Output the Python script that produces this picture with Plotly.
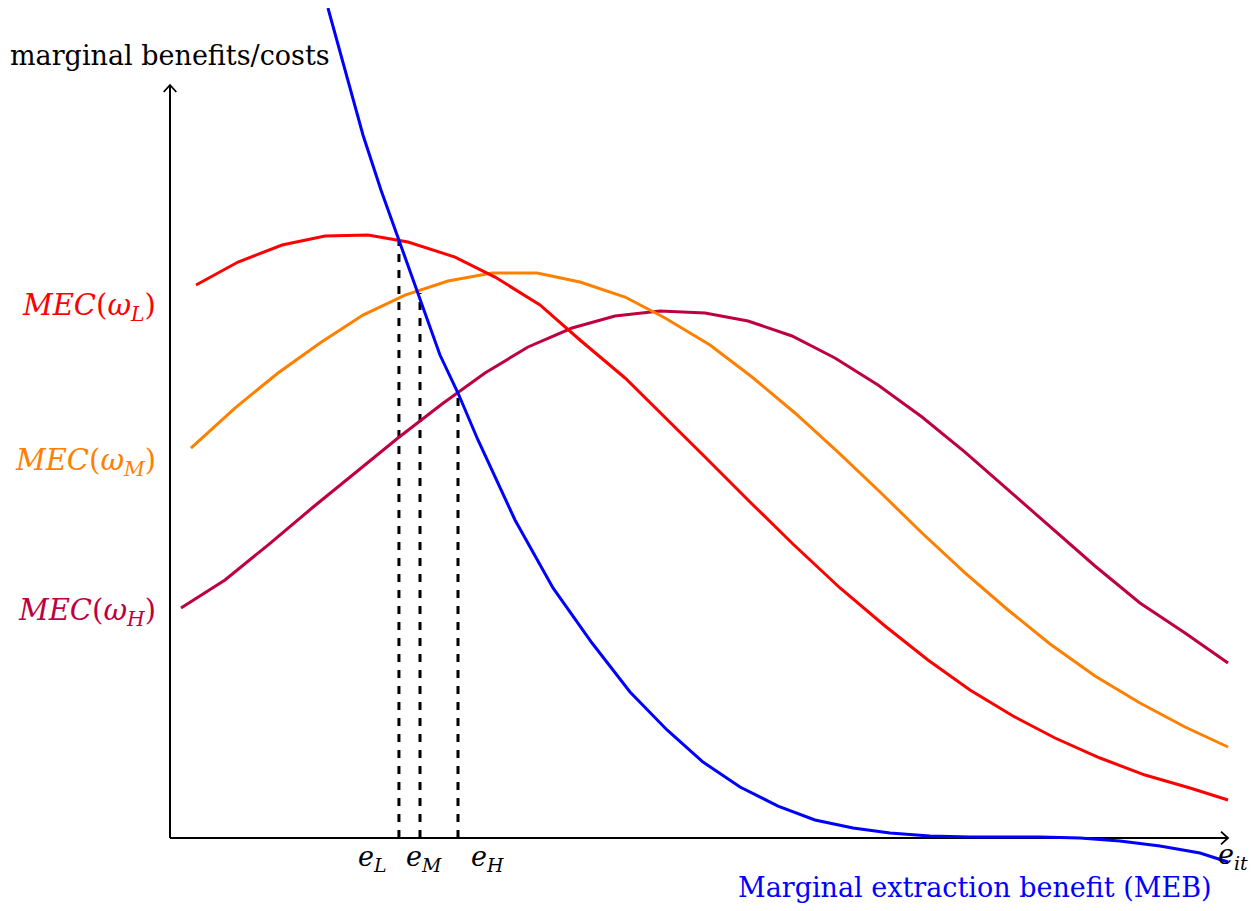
import plotly.graph_objects as go

# ---- data (x: extraction e_it, y: marginal benefits/costs; axis spans x 0..10) ----
meb_x = [1.493, 1.654, 1.824, 1.994, 2.164, 2.363, 2.552, 2.722, 2.911, 3.261, 3.620, 3.989,
         4.348, 4.698, 5.038, 5.388, 5.747, 6.096, 6.456, 6.805, 7.183, 7.561, 8.223, 8.601,
         8.979, 9.357, 9.735, 10.0]
meb_y = [7.845, 7.259, 6.645, 6.125, 5.652, 5.085, 4.565, 4.206, 3.762, 3.006, 2.363, 1.843,
         1.380, 1.021, 0.718, 0.482, 0.302, 0.170, 0.095, 0.047, 0.019, 0.009, 0.009, 0.0,
         -0.028, -0.076, -0.142, -0.227]

mecL_x = [0.246, 0.643, 1.059, 1.465, 1.871, 2.250, 2.694, 3.072, 3.497, 3.875, 4.301, 4.679,
          5.057, 5.482, 5.888, 6.333, 6.758, 7.164, 7.561, 7.968, 8.365, 8.790, 9.216, 9.641, 10.0]
mecL_y = [5.227, 5.444, 5.605, 5.690, 5.699, 5.633, 5.491, 5.302, 5.038, 4.707, 4.348, 3.979,
          3.601, 3.176, 2.779, 2.363, 2.004, 1.682, 1.399, 1.153, 0.945, 0.756, 0.595, 0.473, 0.359]

mecM_x = [0.198, 0.614, 1.021, 1.418, 1.824, 2.221, 2.628, 3.043, 3.469, 3.875, 4.301, 4.679,
          5.104, 5.501, 5.907, 6.314, 6.711, 7.108, 7.514, 7.921, 8.318, 8.743, 9.168, 9.594, 10.0]
mecM_y = [3.686, 4.064, 4.395, 4.679, 4.943, 5.132, 5.265, 5.340, 5.340, 5.255, 5.113, 4.915,
          4.660, 4.357, 4.017, 3.648, 3.270, 2.883, 2.505, 2.155, 1.834, 1.531, 1.276, 1.049, 0.860]

mecH_x = [0.104, 0.520, 0.926, 1.342, 1.749, 2.155, 2.571, 2.977, 3.384, 3.800, 4.206, 4.631,
          5.057, 5.463, 5.879, 6.285, 6.692, 7.108, 7.514, 7.921, 8.336, 8.743, 9.168, 9.594, 10.0]
mecH_y = [2.174, 2.439, 2.769, 3.119, 3.450, 3.781, 4.102, 4.395, 4.641, 4.820, 4.934, 4.981,
          4.962, 4.887, 4.745, 4.537, 4.282, 3.979, 3.648, 3.289, 2.930, 2.571, 2.221, 1.938, 1.654]

e_labels = ["L", "M", "H"]
e_vals = [2.164, 2.363, 2.722]
e_tops = [5.652, 5.151, 4.216]

# ---- layout constants ----
PAGE_OFF = 8          # default body margin of the html page
PX = 105.8            # pixels per unit
X0, Y0 = 170 - PAGE_OFF, 838 - PAGE_OFF
W, H = 1240, 895
x_range = [(0 - X0) / PX, (W - X0) / PX]
y_range = [(Y0 - H) / PX, Y0 / PX]
X_END = 10.0
Y_END = (838 - 85) / PX


def px_x(p):
    return (p - 170) / PX


def px_y(p):
    return (838 - p) / PX


BLUE = "#0000ff"
RED = "#ff0000"
ORANGE = "#ff8000"
PURPLE = "#bf0040"
FONT = "DejaVu Serif"
FS = 27

fig = go.Figure()

# axes
fig.add_trace(go.Scatter(x=[0, X_END], y=[0, 0], mode="lines",
                         line=dict(color="black", width=2), hoverinfo="skip"))
fig.add_trace(go.Scatter(x=[0, 0], y=[0, Y_END], mode="lines",
                         line=dict(color="black", width=2), hoverinfo="skip"))
a = 7 / PX
fig.add_trace(go.Scatter(x=[X_END - a, X_END, X_END - a], y=[a * 0.9, 0, -a * 0.9], mode="lines",
                         line=dict(color="black", width=1.8), hoverinfo="skip"))
fig.add_trace(go.Scatter(x=[-a * 0.9, 0, a * 0.9], y=[Y_END - a, Y_END, Y_END - a], mode="lines",
                         line=dict(color="black", width=1.8), hoverinfo="skip"))

# dashed verticals
for ev, et in zip(e_vals, e_tops):
    fig.add_trace(go.Scatter(x=[ev, ev], y=[0, et], mode="lines",
                             line=dict(color="black", width=3, dash="8px,8px"), hoverinfo="skip"))

# curves
for xs, ys, c in [(mecH_x, mecH_y, PURPLE), (mecM_x, mecM_y, ORANGE),
                  (mecL_x, mecL_y, RED), (meb_x, meb_y, BLUE)]:
    fig.add_trace(go.Scatter(x=xs, y=ys, mode="lines", line=dict(color=c, width=3),
                             hoverinfo="skip"))

ann = []
ann.append(dict(x=px_x(170), y=px_y(55), text="marginal benefits/costs", showarrow=False,
                font=dict(family=FONT, size=FS, color="black"), xanchor="center", yanchor="middle"))
for lab, yy, c in [("L", px_y(307), RED), ("M", px_y(462), ORANGE), ("H", px_y(612), PURPLE)]:
    ann.append(dict(x=px_x(158), y=yy, text=f"<i>MEC</i>(<i>ω</i><sub><i>{lab}</i></sub>)",
                    showarrow=False, font=dict(family=FONT, size=29, color=c),
                    xanchor="right", yanchor="middle"))
for lab, xx in zip(e_labels, [px_x(372), px_x(424), px_x(487)]):
    ann.append(dict(x=xx, y=px_y(858), text=f"<i>e</i><sub><i>{lab}</i></sub>",
                    showarrow=False, font=dict(family=FONT, size=FS, color="black"),
                    xanchor="center", yanchor="middle"))
ann.append(dict(x=px_x(1233), y=px_y(856), text="<i>e</i><sub><i>it</i></sub>",
                showarrow=False, font=dict(family=FONT, size=FS, color="black"),
                xanchor="center", yanchor="middle"))
ann.append(dict(x=px_x(975), y=px_y(887), text="Marginal extraction benefit (MEB)",
                showarrow=False, font=dict(family=FONT, size=FS, color=BLUE),
                xanchor="center", yanchor="middle"))

fig.update_layout(
    width=W, height=H, margin=dict(l=0, r=0, t=0, b=0),
    paper_bgcolor="white", plot_bgcolor="white", showlegend=False,
    xaxis=dict(range=x_range, visible=False, fixedrange=True),
    yaxis=dict(range=y_range, visible=False, fixedrange=True),
    annotations=ann,
)

fig.write_html("out.html")
